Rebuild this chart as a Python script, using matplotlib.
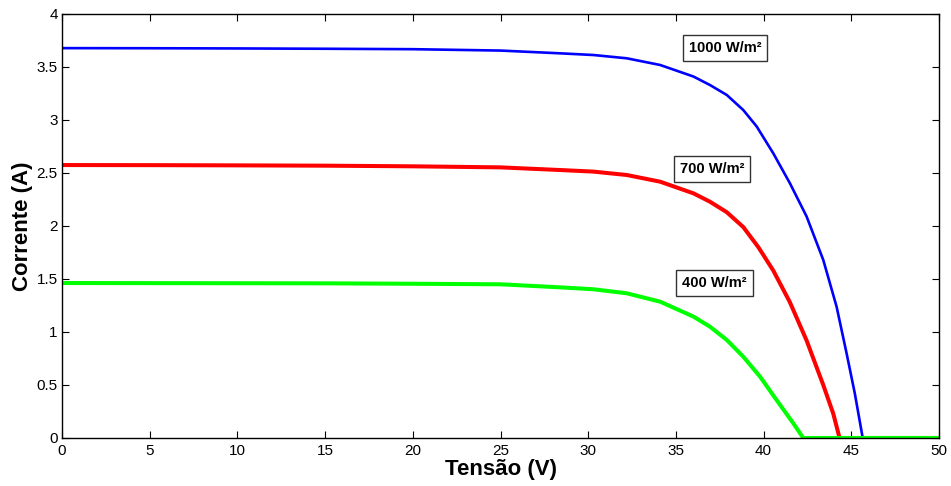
import matplotlib
matplotlib.use('Agg')
from matplotlib import pyplot as plt

plt.rcParams['font.family'] = ['Liberation Sans', 'DejaVu Sans']

# curvas I-V
v_1000 = [0, 5, 10, 15, 20, 25, 28.4, 30.3, 32.2, 34.1, 36.0, 36.94, 37.9, 38.84, 39.6,
          40.55, 41.5, 42.45, 43.4, 44.16, 44.73, 45.2, 45.65, 50]
i_1000 = [3.678, 3.677, 3.675, 3.672, 3.668, 3.655, 3.629, 3.613, 3.582, 3.519, 3.41, 3.33,
          3.236, 3.094, 2.94, 2.686, 2.403, 2.09, 1.68, 1.239, 0.799, 0.42, 0, 0]

v_700 = [0, 5, 10, 15, 20, 25, 28.4, 30.3, 32.2, 34.1, 36.0, 36.94, 37.9, 38.84, 39.7,
         40.55, 41.5, 42.45, 43.4, 43.97, 44.33, 50]
i_700 = [2.575, 2.574, 2.572, 2.569, 2.563, 2.553, 2.528, 2.513, 2.481, 2.418, 2.308, 2.229,
         2.13, 1.99, 1.80, 1.58, 1.28, 0.92, 0.50, 0.23, 0, 0]

v_400 = [0, 5, 10, 15, 20, 25, 28.4, 30.3, 32.2, 34.1, 36.0, 36.94, 37.9, 38.84, 39.8,
         40.74, 41.69, 42.26, 50]
i_400 = [1.462, 1.461, 1.46, 1.459, 1.455, 1.45, 1.421, 1.403, 1.365, 1.286, 1.145, 1.05,
         0.925, 0.767, 0.578, 0.358, 0.139, 0, 0]

rotulos = ['1000 W/m²', '700 W/m²', '400 W/m²']
pos_rotulos = [(37.8, 3.68), (37.05, 2.54), (37.2, 1.46)]

fig = plt.figure(figsize=(9.51, 4.86), dpi=100)
ax = fig.add_axes([0.0652, 0.0988, 0.9222, 0.8724])

ax.plot(v_1000, i_1000, color='#0000ff', lw=1.9)
ax.plot(v_700, i_700, color='#ff0000', lw=2.9)
ax.plot(v_400, i_400, color='#00ff00', lw=2.9)

for txt, (x, y) in zip(rotulos, pos_rotulos):
    ax.text(x, y, txt, ha='center', va='center', fontsize=10.5, fontweight='bold',
            bbox=dict(boxstyle='square,pad=0.4', fc='white', ec='#333333', lw=1))

ax.set_xlim(0, 50)
ax.set_ylim(0, 4)
ax.set_xticks(range(0, 51, 5))
ax.set_yticks([0, 0.5, 1, 1.5, 2, 2.5, 3, 3.5, 4])
ax.set_yticklabels(['0', '0.5', '1', '1.5', '2', '2.5', '3', '3.5', '4'])
ax.tick_params(direction='in', top=True, right=True, length=5, labelsize=11)
ax.tick_params(axis='x', pad=4)
ax.tick_params(axis='y', pad=3)
for s in ax.spines.values():
    s.set_linewidth(1)

ax.set_xlabel('Tensão (V)', fontsize=16, fontweight='bold', labelpad=1)
ax.set_ylabel('Corrente (A)', fontsize=16, fontweight='bold', labelpad=3)

fig.savefig('out.png', dpi=100)
